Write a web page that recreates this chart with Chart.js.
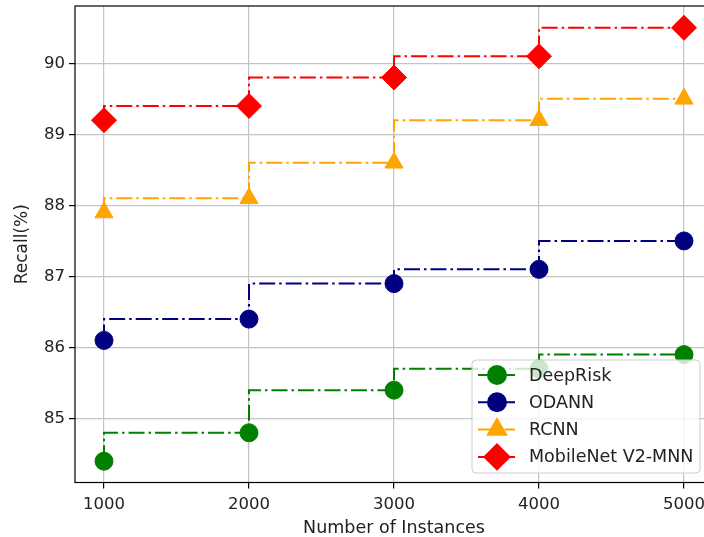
<!DOCTYPE html>
<html>
<head>
<meta charset="utf-8">
<script src="https://cdn.jsdelivr.net/npm/chart.js@4/dist/chart.umd.min.js"></script>
<style>
  html, body { margin: 0; padding: 0; background: #fff; overflow: hidden; }
  #wrap { width: 704px; height: 537px; overflow: hidden; position: relative; }
  canvas { display: block; }
</style>
</head>
<body>
<div id="wrap"><canvas id="c" width="730" height="537"></canvas></div>
<script>
// ---- data ----
const instances = [1000, 2000, 3000, 4000, 5000];
const seriesNames = ['DeepRisk', 'ODANN', 'RCNN', 'MobileNet V2-MNN'];
const deepRisk = [84.4, 84.8, 85.4, 85.7, 85.9];
const odann = [86.1, 86.4, 86.9, 87.1, 87.5];
const rcnn = [87.9, 88.1, 88.6, 89.2, 89.5];
const mobileNet = [89.2, 89.4, 89.8, 90.1, 90.5];
const xTicks = [1000, 2000, 3000, 4000, 5000];
const yTicks = [85, 86, 87, 88, 89, 90];

const colors = ['#008000', '#000080', '#FFA500', '#FF0000'];
const styles = ['circle', 'circle', 'triangle', 'rectRot'];
const radii = [9, 9, 10.5, 12.5];
const allSeries = [deepRisk, odann, rcnn, mobileNet];

Chart.defaults.font.family = "'DejaVu Sans', sans-serif";
Chart.defaults.color = '#222';

const DASH = [16, 4, 2.5, 4];

const datasets = allSeries.map((vals, i) => ({
  label: seriesNames[i],
  data: instances.map((x, j) => ({ x: x, y: vals[j] })),
  borderColor: colors[i],
  backgroundColor: colors[i],
  borderWidth: 2,
  borderDash: DASH,
  stepped: 'after',
  pointStyle: styles[i],
  pointRadius: radii[i],
  pointHoverRadius: radii[i],
  pointBorderWidth: 1,
  pointBorderColor: colors[i],
  pointBackgroundColor: colors[i],
  fill: false,
  order: 3 - i,
  clip: false
}));

const framePlugin = {
  id: 'frame',
  afterDatasetsDraw(chart) {
    const { ctx, chartArea: a } = chart;
    ctx.save();
    ctx.strokeStyle = '#000';
    ctx.lineWidth = 1.2;
    ctx.setLineDash([]);
    ctx.strokeRect(a.left, a.top, a.right - a.left, a.bottom - a.top);
    ctx.restore();
  }
};

function drawMarker(ctx, style, r, x, y) {
  if (Chart.helpers && Chart.helpers.drawPoint) {
    Chart.helpers.drawPoint(ctx, { pointStyle: style, radius: r, rotation: 0, borderWidth: 1 }, x, y);
    return;
  }
  ctx.beginPath();
  if (style === 'circle') ctx.arc(x, y, r, 0, Math.PI * 2);
  else if (style === 'triangle') {
    for (let k = 0; k < 3; k++) {
      const ang = k * 2 * Math.PI / 3;
      const px = x + Math.sin(ang) * r, py = y - Math.cos(ang) * r;
      if (k === 0) ctx.moveTo(px, py); else ctx.lineTo(px, py);
    }
    ctx.closePath();
  } else {
    ctx.moveTo(x - r, y); ctx.lineTo(x, y - r); ctx.lineTo(x + r, y); ctx.lineTo(x, y + r); ctx.closePath();
  }
  ctx.fill(); ctx.stroke();
}

const legendPlugin = {
  id: 'mplLegend',
  afterDraw(chart) {
    const { ctx, chartArea: a } = chart;
    const w = 228, h = 113;
    const right = a.right - 13, bottom = a.bottom - 9.5;
    const left = right - w, top = bottom - h;
    ctx.save();
    const rr = 4;
    ctx.beginPath();
    ctx.moveTo(left + rr, top);
    ctx.lineTo(right - rr, top);
    ctx.quadraticCurveTo(right, top, right, top + rr);
    ctx.lineTo(right, bottom - rr);
    ctx.quadraticCurveTo(right, bottom, right - rr, bottom);
    ctx.lineTo(left + rr, bottom);
    ctx.quadraticCurveTo(left, bottom, left, bottom - rr);
    ctx.lineTo(left, top + rr);
    ctx.quadraticCurveTo(left, top, left + rr, top);
    ctx.closePath();
    ctx.fillStyle = 'rgba(255,255,255,0.8)';
    ctx.fill();
    ctx.strokeStyle = '#cccccc';
    ctx.lineWidth = 1;
    ctx.stroke();

    chart.data.datasets.forEach((ds, i) => {
      const cy = top + 15 + i * 27.3;
      ctx.setLineDash(DASH);
      ctx.strokeStyle = ds.borderColor;
      ctx.lineWidth = 2;
      ctx.beginPath();
      ctx.moveTo(left + 6, cy);
      ctx.lineTo(left + 43, cy);
      ctx.stroke();
      ctx.setLineDash([]);
      ctx.fillStyle = ds.borderColor;
      ctx.strokeStyle = ds.borderColor;
      drawMarker(ctx, ds.pointStyle, ds.pointRadius, left + 25, cy);
      ctx.fillStyle = '#222';
      ctx.font = "17.5px 'DejaVu Sans', sans-serif";
      ctx.textAlign = 'left';
      ctx.textBaseline = 'middle';
      ctx.fillText(ds.label, left + 57, cy + 1);
    });
    ctx.restore();
  }
};

new Chart(document.getElementById('c'), {
  type: 'line',
  data: { datasets: datasets },
  plugins: [framePlugin, legendPlugin],
  options: {
    responsive: false,
    animation: false,
    events: [],
    layout: { autoPadding: false, padding: { left: 0, top: 6, right: 17, bottom: 0 } },
    plugins: { legend: { display: false }, tooltip: { enabled: false } },
    scales: {
      x: {
        type: 'linear',
        min: 800,
        max: 5200,
        afterBuildTicks: (s) => { s.ticks = xTicks.map(v => ({ value: v })); },
        afterFit: (s) => { s.height = 54.5; s.paddingLeft = 0; s.paddingRight = 0; },
        ticks: {
          font: { size: 16.5 },
          color: '#222',
          padding: 6,
          maxRotation: 0,
          callback: (v) => String(v)
        },
        grid: { color: '#c4c4c4', lineWidth: 1.2, tickColor: '#000', tickLength: 6, tickWidth: 1.2 },
        border: { display: false },
        title: {
          display: true,
          text: 'Number of Instances',
          font: { size: 17.5, lineHeight: 1 },
          color: '#222',
          padding: { top: 0, bottom: 0 }
        }
      },
      y: {
        type: 'linear',
        min: 84.1,
        max: 90.807,
        afterBuildTicks: (s) => { s.ticks = yTicks.map(v => ({ value: v })); },
        afterFit: (s) => { s.width = 75; s.paddingTop = 0; s.paddingBottom = 0; },
        ticks: {
          font: { size: 16.5, lineHeight: 0.2 },
          color: '#222',
          padding: 4,
          callback: (v) => String(v)
        },
        grid: { color: '#c4c4c4', lineWidth: 1.2, tickColor: '#000', tickLength: 6, tickWidth: 1.2 },
        border: { display: false },
        title: {
          display: true,
          text: 'Recall(%)',
          font: { size: 17, lineHeight: 1 },
          color: '#222',
          padding: { top: 14.5, bottom: 0 }
        }
      }
    }
  }
});
</script>
</body>
</html>
